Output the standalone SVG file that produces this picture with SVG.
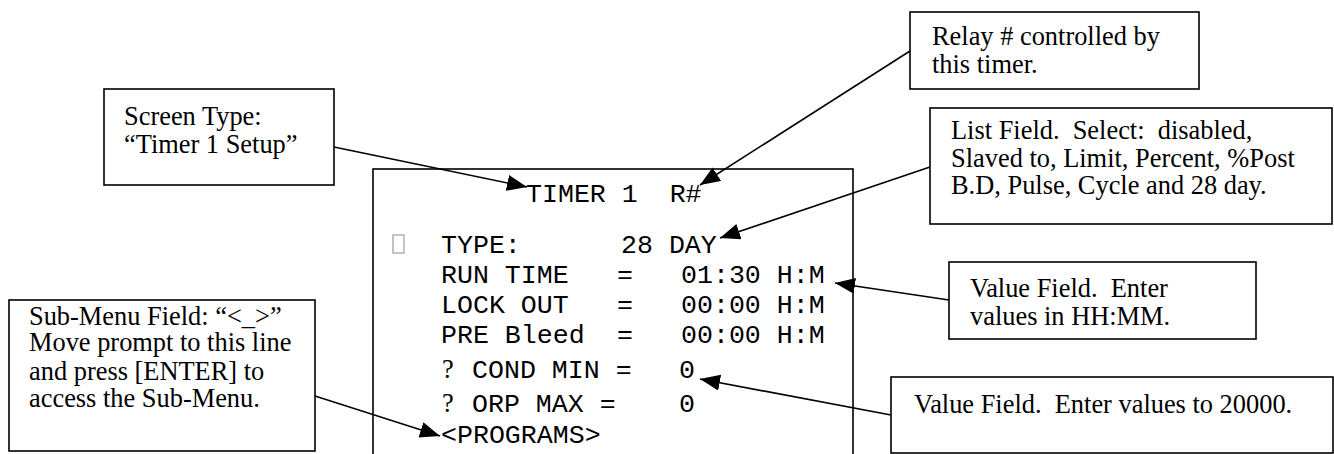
<svg xmlns="http://www.w3.org/2000/svg" width="1334" height="454" viewBox="0 0 1334 454">
<defs>
<style>
.box{fill:#fff;stroke:#000;stroke-width:1.6}
.serif{font-family:"Liberation Serif","Times New Roman",serif;font-size:26.4px;fill:#000}
.mono{font-family:"Liberation Mono","Courier New",monospace;font-size:26.6px;fill:#000}
.conn{stroke:#000;stroke-width:1.6;fill:none;marker-end:url(#arrow)}
</style>
<marker id="arrow" markerUnits="userSpaceOnUse" markerWidth="22" markerHeight="18" refX="20" refY="8" orient="auto">
<path d="M0,0 L20,8 L0,16 z" fill="#000"/>
</marker>
</defs>
<rect width="1334" height="454" fill="#fff"/>

<g id="screen">
<rect class="box" x="373" y="169" width="480" height="300"/>
<text class="mono" x="526" y="202" xml:space="preserve">TIMER 1  R#</text>
<rect x="393" y="235" width="11" height="18" fill="none" stroke="#888" stroke-width="1"/>
<text class="mono" x="441" y="253">TYPE:</text>
<text class="mono" x="621" y="253">28 DAY</text>
<text class="mono" x="441" y="283">RUN TIME</text>
<text class="mono" x="617" y="283">=</text>
<text class="mono" x="681" y="283">01:30 H:M</text>
<text class="mono" x="441" y="313">LOCK OUT</text>
<text class="mono" x="617" y="313">=</text>
<text class="mono" x="681" y="313">00:00 H:M</text>
<text class="mono" x="441" y="343">PRE Bleed</text>
<text class="mono" x="617" y="343">=</text>
<text class="mono" x="681" y="343">00:00 H:M</text>
<text class="serif" x="442" y="378">?</text>
<text class="mono" x="472" y="378" xml:space="preserve">COND MIN =</text>
<text class="mono" x="679" y="378">0</text>
<text class="serif" x="442" y="412">?</text>
<text class="mono" x="472" y="412" xml:space="preserve">ORP MAX =</text>
<text class="mono" x="679" y="412">0</text>
<text class="mono" x="441" y="443">&lt;PROGRAMS&gt;</text>
</g>

<g id="screen-type">
<rect class="box" x="104" y="89" width="230" height="96"/>
<text class="serif" x="124" y="125">Screen Type:</text>
<text class="serif" x="124" y="153">“Timer 1 Setup”</text>
</g>

<g id="relay">
<rect class="box" x="910" y="12" width="289" height="77"/>
<text class="serif" x="932" y="45">Relay # controlled by</text>
<text class="serif" x="932" y="73">this timer.</text>
</g>

<g id="list-field">
<rect class="box" x="930" y="108" width="402" height="116"/>
<text class="serif" x="951" y="139" xml:space="preserve">List Field.  Select:  disabled,</text>
<text class="serif" x="951" y="167">Slaved to, Limit, Percent, %Post</text>
<text class="serif" x="951" y="194">B.D, Pulse, Cycle and 28 day.</text>
</g>

<g id="value-hhmm">
<rect class="box" x="949" y="262" width="307" height="77"/>
<text class="serif" x="970" y="297" xml:space="preserve">Value Field.  Enter</text>
<text class="serif" x="970" y="325">values in HH:MM.</text>
</g>

<g id="value-20000">
<rect class="box" x="891" y="377" width="442" height="76"/>
<text class="serif" x="914" y="413" xml:space="preserve">Value Field.  Enter values to 20000.</text>
</g>

<g id="sub-menu">
<rect class="box" x="9" y="300" width="306" height="151"/>
<text class="serif" x="29" y="325">Sub-Menu Field: “&lt;_&gt;”</text>
<text class="serif" x="29" y="351">Move prompt to this line</text>
<text class="serif" x="29" y="380">and press [ENTER] to</text>
<text class="serif" x="29" y="407">access the Sub-Menu.</text>
</g>

<g id="connectors">
<line class="conn" x1="334" y1="147" x2="527" y2="187"/>
<line class="conn" x1="910" y1="51" x2="700" y2="185"/>
<line class="conn" x1="930" y1="167" x2="720" y2="238"/>
<line class="conn" x1="949" y1="300" x2="835" y2="283"/>
<line class="conn" x1="891" y1="415" x2="700" y2="379"/>
<line class="conn" x1="315" y1="396" x2="440" y2="436"/>
</g>
</svg>
